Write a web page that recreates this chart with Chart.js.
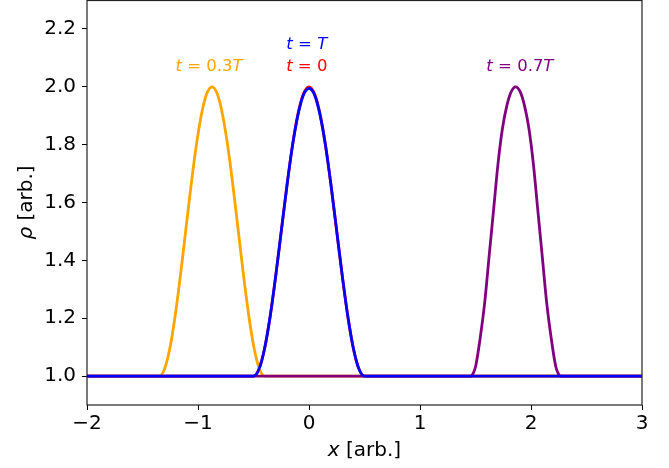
<!DOCTYPE html>
<html>
<head>
<meta charset="utf-8">
<script src="https://cdn.jsdelivr.net/npm/chart.js@4/dist/chart.umd.min.js"></script>
<style>
  html, body { margin: 0; padding: 0; background: #fff; }
  #wrap { width: 669px; height: 468px; }
</style>
</head>
<body>
<div id="wrap"><canvas id="rhoChart" width="669" height="468"></canvas></div>
<script>
// ============================================
// DATA
// ============================================

// t = 0 and t = T share the same x grid
const xCentre = [-2, -0.5, -0.45, -0.4, -0.35, -0.3, -0.25, -0.2, -0.15, -0.1, -0.05, 0,
  0.05, 0.1, 0.15, 0.2, 0.25, 0.3, 0.35, 0.4, 0.45, 0.5, 3];
const rhoT0 = [1, 1, 1.0245, 1.0955, 1.2061, 1.3455, 1.5, 1.6545, 1.7939, 1.9045, 1.9755, 2.0,
  1.9755, 1.9045, 1.7939, 1.6545, 1.5, 1.3455, 1.2061, 1.0955, 1.0245, 1, 1];
const rhoT1 = [1, 1, 1.0245, 1.0955, 1.2061, 1.3455, 1.5, 1.6545, 1.7939, 1.902, 1.972, 1.994,
  1.972, 1.902, 1.7939, 1.6545, 1.5, 1.3455, 1.2061, 1.0955, 1.0245, 1, 1];

// t = 0.3T
const xT03 = [-2, -1.349, -1.3015, -1.254, -1.2065, -1.159, -1.1115, -1.064, -1.0165, -0.969, -0.9215,
  -0.874, -0.8265, -0.779, -0.7315, -0.684, -0.6365, -0.589, -0.5415, -0.494, -0.4465, -0.399, 3];
const rhoT03 = [1, 1, 1.0245, 1.0955, 1.2061, 1.3455, 1.5, 1.6545, 1.7939, 1.9045, 1.9755,
  2.0, 1.9755, 1.9045, 1.7939, 1.6545, 1.5, 1.3455, 1.2061, 1.0955, 1.0245, 1, 1];

// t = 0.7T
const xT07 = [-2, 1.462, 1.482, 1.502, 1.542, 1.582, 1.622, 1.662, 1.702, 1.742, 1.782, 1.822,
  1.862, 1.902, 1.942, 1.982, 2.022, 2.062, 2.102, 2.142, 2.182, 2.222, 2.242, 2.262, 3];
const rhoT07 = [1, 1, 1.012, 1.035, 1.131, 1.251, 1.411, 1.571, 1.731, 1.854, 1.934, 1.983,
  2.0, 1.983, 1.934, 1.854, 1.731, 1.571, 1.411, 1.251, 1.131, 1.035, 1.012, 1, 1];

const xTicks = [-2, -1, 0, 1, 2, 3];
const yTicks = [1.0, 1.2, 1.4, 1.6, 1.8, 2.0, 2.2];

// curve labels: [x, y, colour, pieces]  (pieces: [text, italic])
const curveLabels = [
  [-0.9, 2.069, '#ffa500', [['t', true], [' = 0.3', false], ['T', true]]],
  [-0.02, 2.145, '#0000ff', [['t', true], [' = ', false], ['T', true]]],
  [-0.02, 2.069, '#ff0000', [['t', true], [' = 0', false]]],
  [1.9, 2.069, '#800080', [['t', true], [' = 0.7', false], ['T', true]]]
];

// ============================================
// HELPERS
// ============================================

const FONT = '"DejaVu Sans", sans-serif';

function toPoints(xs, ys) {
  return xs.map((x, i) => ({ x: x, y: ys[i] }));
}

function drawPieces(ctx, pieces, cx, cy, size, colour) {
  ctx.save();
  ctx.fillStyle = colour;
  ctx.textBaseline = 'middle';
  ctx.textAlign = 'left';
  let total = 0;
  const widths = pieces.map(p => {
    ctx.font = (p[1] ? 'italic ' : '') + size + 'px ' + FONT;
    const w = ctx.measureText(p[0]).width;
    total += w;
    return w;
  });
  let x = cx - total / 2;
  pieces.forEach((p, i) => {
    ctx.font = (p[1] ? 'italic ' : '') + size + 'px ' + FONT;
    ctx.fillText(p[0], x, cy);
    x += widths[i];
  });
  ctx.restore();
}

// frame, axis titles and curve labels
const decorPlugin = {
  id: 'decor',
  afterDatasetsDraw(chart) {
    const { ctx, chartArea, scales } = chart;
    ctx.save();
    ctx.strokeStyle = '#222';
    ctx.lineWidth = 1.2;
    ctx.strokeRect(chartArea.left, chartArea.top + 0.5,
      chartArea.right - chartArea.left, chartArea.bottom - chartArea.top - 0.5);
    ctx.restore();

    curveLabels.forEach(l => {
      drawPieces(ctx, l[3], scales.x.getPixelForValue(l[0]),
        scales.y.getPixelForValue(l[1]), 16.5, l[2]);
    });

    // x axis title
    drawPieces(ctx, [['x', true], [' [arb.]', false]],
      (chartArea.left + chartArea.right) / 2, 451, 20, '#000');

    // y axis title (rotated)
    ctx.save();
    ctx.translate(27, (chartArea.top + chartArea.bottom) / 2);
    ctx.rotate(-Math.PI / 2);
    drawPieces(ctx, [['ρ', true], [' [arb.]', false]], 0, 0, 20, '#000');
    ctx.restore();
  }
};

// ============================================
// CHART
// ============================================

function lineSet(label, pts, colour) {
  return {
    label: label,
    data: pts,
    showLine: true,
    borderColor: colour,
    backgroundColor: colour,
    borderWidth: 2.8,
    pointRadius: 0,
    cubicInterpolationMode: 'monotone',
    fill: false
  };
}

function initializeChart() {
  const ctx = document.getElementById('rhoChart').getContext('2d');

  new Chart(ctx, {
    type: 'scatter',
    data: {
      datasets: [
        // first dataset is drawn on top
        lineSet('t = T', toPoints(xCentre, rhoT1), '#0000ff'),
        lineSet('t = 0.7T', toPoints(xT07, rhoT07), '#800080'),
        lineSet('t = 0.3T', toPoints(xT03, rhoT03), '#ffa500'),
        lineSet('t = 0', toPoints(xCentre, rhoT0), '#ff0000')
      ]
    },
    options: {
      responsive: false,
      animation: false,
      layout: { padding: { left: 0, right: 27, top: 0, bottom: 0 } },
      plugins: {
        legend: { display: false },
        tooltip: { enabled: false }
      },
      scales: {
        x: {
          type: 'linear',
          min: -2,
          max: 3,
          afterBuildTicks: s => { s.ticks = xTicks.map(v => ({ value: v })); },
          afterFit: s => { s.height = 63; s.paddingLeft = 0; s.paddingRight = 0; },
          border: { display: false },
          grid: { drawOnChartArea: false, drawTicks: true, tickLength: 5, color: '#000', lineWidth: 1 },
          ticks: {
            color: '#000',
            padding: 2,
            font: { family: FONT, size: 20 },
            callback: v => (v < 0 ? '\u2212' + Math.abs(v) : String(v))
          }
        },
        y: {
          type: 'linear',
          min: 0.9,
          max: 2.3,
          afterBuildTicks: s => { s.ticks = yTicks.map(v => ({ value: v })); },
          afterFit: s => { s.width = 87; s.paddingTop = 0; s.paddingBottom = 0; },
          border: { display: false },
          grid: { drawOnChartArea: false, drawTicks: true, tickLength: 5, color: '#000', lineWidth: 1 },
          ticks: {
            color: '#000',
            padding: 6,
            font: { family: FONT, size: 20 },
            callback: v => Number(v).toFixed(1)
          }
        }
      }
    },
    plugins: [decorPlugin]
  });
}

document.addEventListener('DOMContentLoaded', () => {
  initializeChart();
});
</script>
</body>
</html>
